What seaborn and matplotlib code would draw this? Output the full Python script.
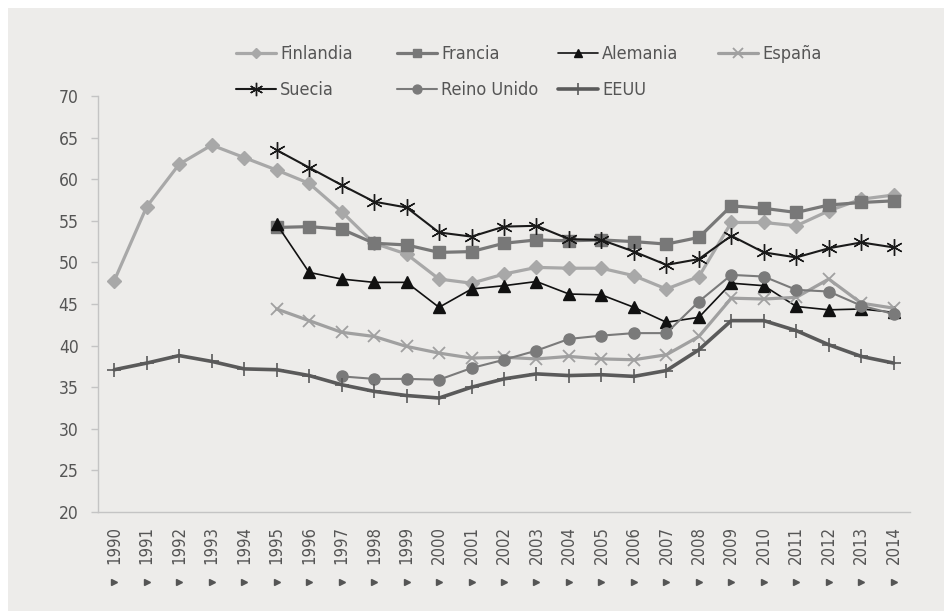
import numpy as np
import pandas as pd
import matplotlib
matplotlib.use("Agg")
import matplotlib.pyplot as plt
import seaborn as sns
from matplotlib.patches import Rectangle

# ─────────────────────────────────────────────
# Data
# ─────────────────────────────────────────────
years = list(range(1990, 2015))

finlandia = [47.8, 56.7, 61.8, 64.1, 62.6, 61.1, 59.5, 56.1, 52.3, 51.0,
             48.0, 47.5, 48.6, 49.4, 49.3, 49.3, 48.4, 46.8, 48.3, 54.8,
             54.8, 54.4, 56.2, 57.6, 58.1]
francia = [None] * 5 + [54.2, 54.3, 54.0, 52.3, 52.1, 51.2, 51.3, 52.3, 52.7,
                        52.6, 52.7, 52.5, 52.2, 53.0, 56.8, 56.5, 56.0, 56.9,
                        57.2, 57.4]
alemania = [None] * 5 + [54.6, 48.8, 48.0, 47.6, 47.6, 44.6, 46.8, 47.2, 47.7,
                         46.2, 46.1, 44.6, 42.8, 43.4, 47.5, 47.2, 44.7, 44.3,
                         44.4, 44.0]
espana = [None] * 5 + [44.4, 43.0, 41.6, 41.1, 39.9, 39.1, 38.5, 38.6, 38.4,
                       38.7, 38.4, 38.3, 38.9, 41.1, 45.7, 45.6, 45.8, 48.0,
                       45.1, 44.5]
suecia = [None] * 5 + [63.5, 61.4, 59.3, 57.3, 56.6, 53.6, 53.1, 54.3, 54.4,
                       52.8, 52.7, 51.3, 49.7, 50.4, 53.2, 51.2, 50.6, 51.7,
                       52.4, 51.8]
reino_unido = [None] * 7 + [36.3, 36.0, 36.0, 35.9, 37.3, 38.3, 39.4, 40.8,
                            41.2, 41.5, 41.5, 45.3, 48.5, 48.3, 46.7, 46.5,
                            44.8, 43.8]
eeuu = [37.1, 37.9, 38.8, 38.1, 37.2, 37.1, 36.4, 35.3, 34.5, 34.0,
        33.7, 35.0, 36.0, 36.6, 36.4, 36.5, 36.3, 37.0, 39.5, 43.0,
        43.0, 41.8, 40.1, 38.7, 37.9]

series = {
    "Finlandia": finlandia,
    "Francia": francia,
    "Alemania": alemania,
    "España": espana,
    "Suecia": suecia,
    "Reino Unido": reino_unido,
    "EEUU": eeuu,
}

df = pd.DataFrame(series, index=years).rename_axis("year").reset_index()
df = df.melt(id_vars="year", var_name="pais", value_name="valor").dropna()

# styles per country: color, marker, markersize, linewidth, marker edge width
STYLES = {
    "Finlandia":   ("#a8a8a8", "D", 7, 2.3, 1.0),
    "Francia":     ("#787878", "s", 8, 2.3, 1.0),
    "Alemania":    ("#111111", "^", 8, 1.2, 1.0),
    "España":      ("#a0a0a0", "x", 9, 2.3, 1.3),
    "Suecia":      ("#1a1a1a", (6, 2, 0), 12, 1.5, 1.0),
    "Reino Unido": ("#7a7a7a", "o", 8, 1.5, 1.0),
    "EEUU":        ("#5a5a5a", "+", 10, 2.6, 1.2),
}

# ─────────────────────────────────────────────
# Figure
# ─────────────────────────────────────────────
sns.set_style("white")
plt.rcParams["font.family"] = ["DejaVu Sans"]
plt.rcParams["font.stretch"] = "condensed"

BG = "#edecea"
TXT = "#555555"
fig = plt.figure(figsize=(9.45, 6.11), dpi=100, facecolor="white")
fig.patches.append(Rectangle((8 / 945, 0), 1, 1 - 8 / 611,
                             transform=fig.transFigure, facecolor=BG,
                             edgecolor="none", zorder=-10))
ax = fig.add_axes([98 / 945, 1 - 512 / 611, (910 - 98) / 945, (512 - 96) / 611])
ax.set_facecolor(BG)

for name in series:
    color, marker, ms, lw, mew = STYLES[name]
    sub = df[df["pais"] == name]
    sns.lineplot(data=sub, x="year", y="valor", ax=ax, color=color,
                 marker=marker, markersize=ms, linewidth=lw,
                 markeredgewidth=mew, markeredgecolor=color,
                 label=name, errorbar=None, legend=False)

ax.set_xlim(1989.5, 2014.5)
ax.set_ylim(20, 70)
ax.set_yticks(range(20, 71, 5))
ax.set_xticks(years)
ax.set_xticklabels([str(y) for y in years], rotation=90)
ax.set_xticks(np.arange(1989.5, 2015, 1), minor=True)
ax.tick_params(axis="x", which="major", length=0, pad=10,
               labelsize=12, labelcolor=TXT)
ax.tick_params(axis="x", which="minor", length=5, color="#c4c4c4", width=1,
               direction="out")
ax.tick_params(axis="y", length=5, color="#c4c4c4", width=1, pad=9,
               labelsize=12.5, labelcolor=TXT, left=True)
ax.set_xlabel("")
ax.set_ylabel("")

for side in ["top", "right"]:
    ax.spines[side].set_visible(False)
for side in ["left", "bottom"]:
    ax.spines[side].set_color("#c4c4c4")
    ax.spines[side].set_linewidth(1)

# little arrow markers below the year labels
ax.plot(years, [-0.168] * len(years), linestyle="none", marker=">",
        markersize=4.5, color=TXT, transform=ax.get_xaxis_transform(),
        clip_on=False)

# legend: four equal-width columns, two rows
handles = {ln.get_label(): ln for ln in ax.get_lines()}
columns = [["Finlandia", "Suecia"], ["Francia", "Reino Unido"],
           ["Alemania", "EEUU"], ["España"]]
col_x = [236, 397, 558, 718]
for names, x0 in zip(columns, col_x):
    leg = fig.legend([handles[k] for k in names], names, frameon=False,
                     loc="upper left", bbox_to_anchor=(x0 / 945, 1 - 45 / 611),
                     fontsize=13, labelcolor=TXT, handlelength=2.2,
                     handletextpad=0.25, labelspacing=1.0, markerscale=0.8,
                     borderpad=0, borderaxespad=0)

fig.savefig("out.png", dpi=100, facecolor=fig.get_facecolor())
